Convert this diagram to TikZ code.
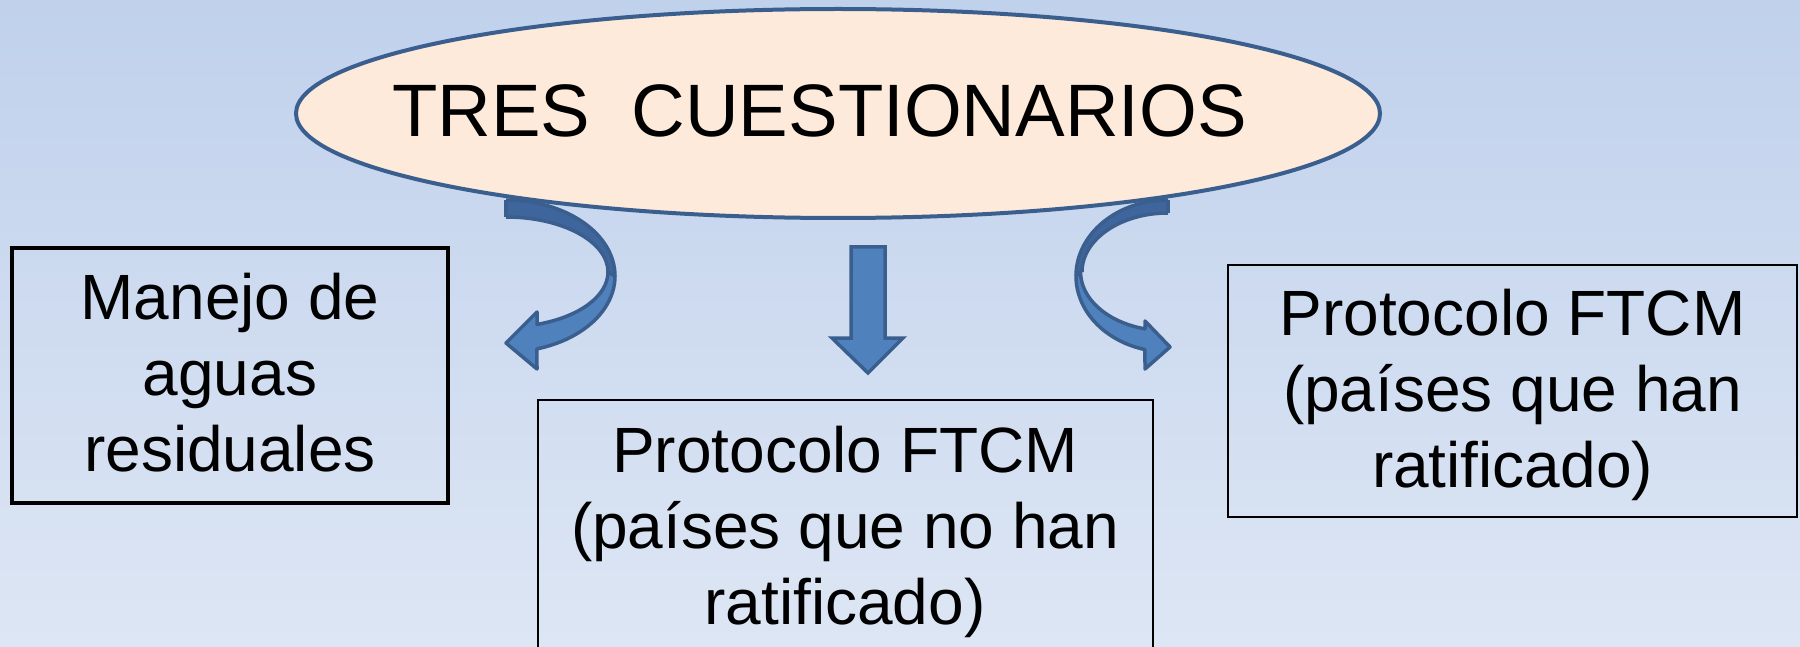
\documentclass[tikz,border=0pt]{standalone}
\usepackage{fontspec}
\setmainfont{Liberation Sans}
\usetikzlibrary{shapes.geometric}
\definecolor{bgtop}{RGB}{192,209,236}
\definecolor{bgbot}{RGB}{221,230,244}
\definecolor{peach}{RGB}{253,234,218}
\definecolor{edgeblue}{RGB}{58,95,143}
\definecolor{darkfill}{RGB}{62,102,156}
\definecolor{lightfill}{RGB}{79,129,189}
\begin{document}
\begin{tikzpicture}[x=1pt,y=1pt,
  arrowshape/.style={draw=edgeblue, line width=3.5pt, line join=round},
  boxtext/.style={inner sep=0pt, align=center, font=\fontsize{64}{76}\selectfont},
  thickbox/.style={draw=black, line width=4pt, inner sep=0pt},
  thinbox/.style={draw=black, line width=1.5pt, inner sep=0pt}]
\useasboundingbox (0,0) rectangle (1800,-647);
\shade[top color=bgtop, bottom color=bgbot] (0,0) rectangle (1800,-647);

% left curved arrow
\coordinate (la) at (506,-200);
\fill[darkfill] (la) arc[start angle=90, end angle=0, x radius=109pt, y radius=76pt]
  -- (608,-272) arc[start angle=0, end angle=90, x radius=102pt, y radius=55pt] -- cycle;
\draw[arrowshape, fill=lightfill] (615,-276) arc[start angle=0, end angle=-73.5, x radius=109pt, y radius=76pt]
  -- (537,-369) -- (506,-343) -- (537,-312) -- (537,-324.4)
  arc[start angle=-72.3, end angle=0, x radius=102pt, y radius=55pt] -- cycle;
\draw[arrowshape] (la) arc[start angle=90, end angle=0, x radius=109pt, y radius=76pt];
\draw[arrowshape] (506,-217) arc[start angle=90, end angle=0, x radius=102pt, y radius=55pt];
\draw[arrowshape] (la) -- (506,-217);

% right curved arrow
\coordinate (ra) at (1168,-200);
\fill[darkfill] (ra) arc[start angle=90, end angle=180, x radius=92pt, y radius=76pt]
  -- (1082,-272) arc[start angle=180, end angle=90, x radius=86pt, y radius=59pt] -- cycle;
\draw[arrowshape, fill=lightfill] (1076,-276) arc[start angle=180, end angle=255.5, x radius=92pt, y radius=76pt]
  -- (1145,-369) -- (1170,-347) -- (1145,-321) -- (1145,-328.9)
  arc[start angle=255.5, end angle=180, x radius=86pt, y radius=59pt] -- cycle;
\draw[arrowshape] (ra) arc[start angle=90, end angle=180, x radius=92pt, y radius=76pt];
\draw[arrowshape] (1168,-213) arc[start angle=90, end angle=180, x radius=86pt, y radius=59pt];
\draw[arrowshape] (ra) -- (1168,-213);

% down arrow
\draw[arrowshape, fill=lightfill, line join=miter] (851,-247) -- (885,-247) -- (885,-338) -- (903,-338)
  -- (868,-373) -- (832,-338) -- (851,-338) -- cycle;

% ellipse
\node[ellipse, draw=edgeblue, fill=peach, line width=4pt, minimum width=1084pt, minimum height=209pt, inner sep=0pt] (title) at (838,-113.5) {};
\node[anchor=base west, inner sep=0pt, font=\fontsize{74.3}{80}\selectfont] (titletext) at (392,-137) {TRES\ \ CUESTIONARIOS};

% boxes
\node[thickbox, minimum width=436pt, minimum height=255pt] (left) at (230,-375.5) {};
\node[boxtext] (lefttext) at (230,-373) {Manejo de\\aguas\\residuales};

\draw[thinbox] (538,-680) rectangle (1153,-400);
\coordinate (mid) at (845,-532);
\node[boxtext] (midtext) at (mid) {Protocolo FTCM\\(países que no han\\ratificado)};

\node[thinbox, minimum width=569pt, minimum height=252pt] (right) at (1512.5,-391) {};
\node[boxtext] (righttext) at (1512.5,-395) {Protocolo FTCM\\(países que han\\ratificado)};
\end{tikzpicture}
\end{document}
